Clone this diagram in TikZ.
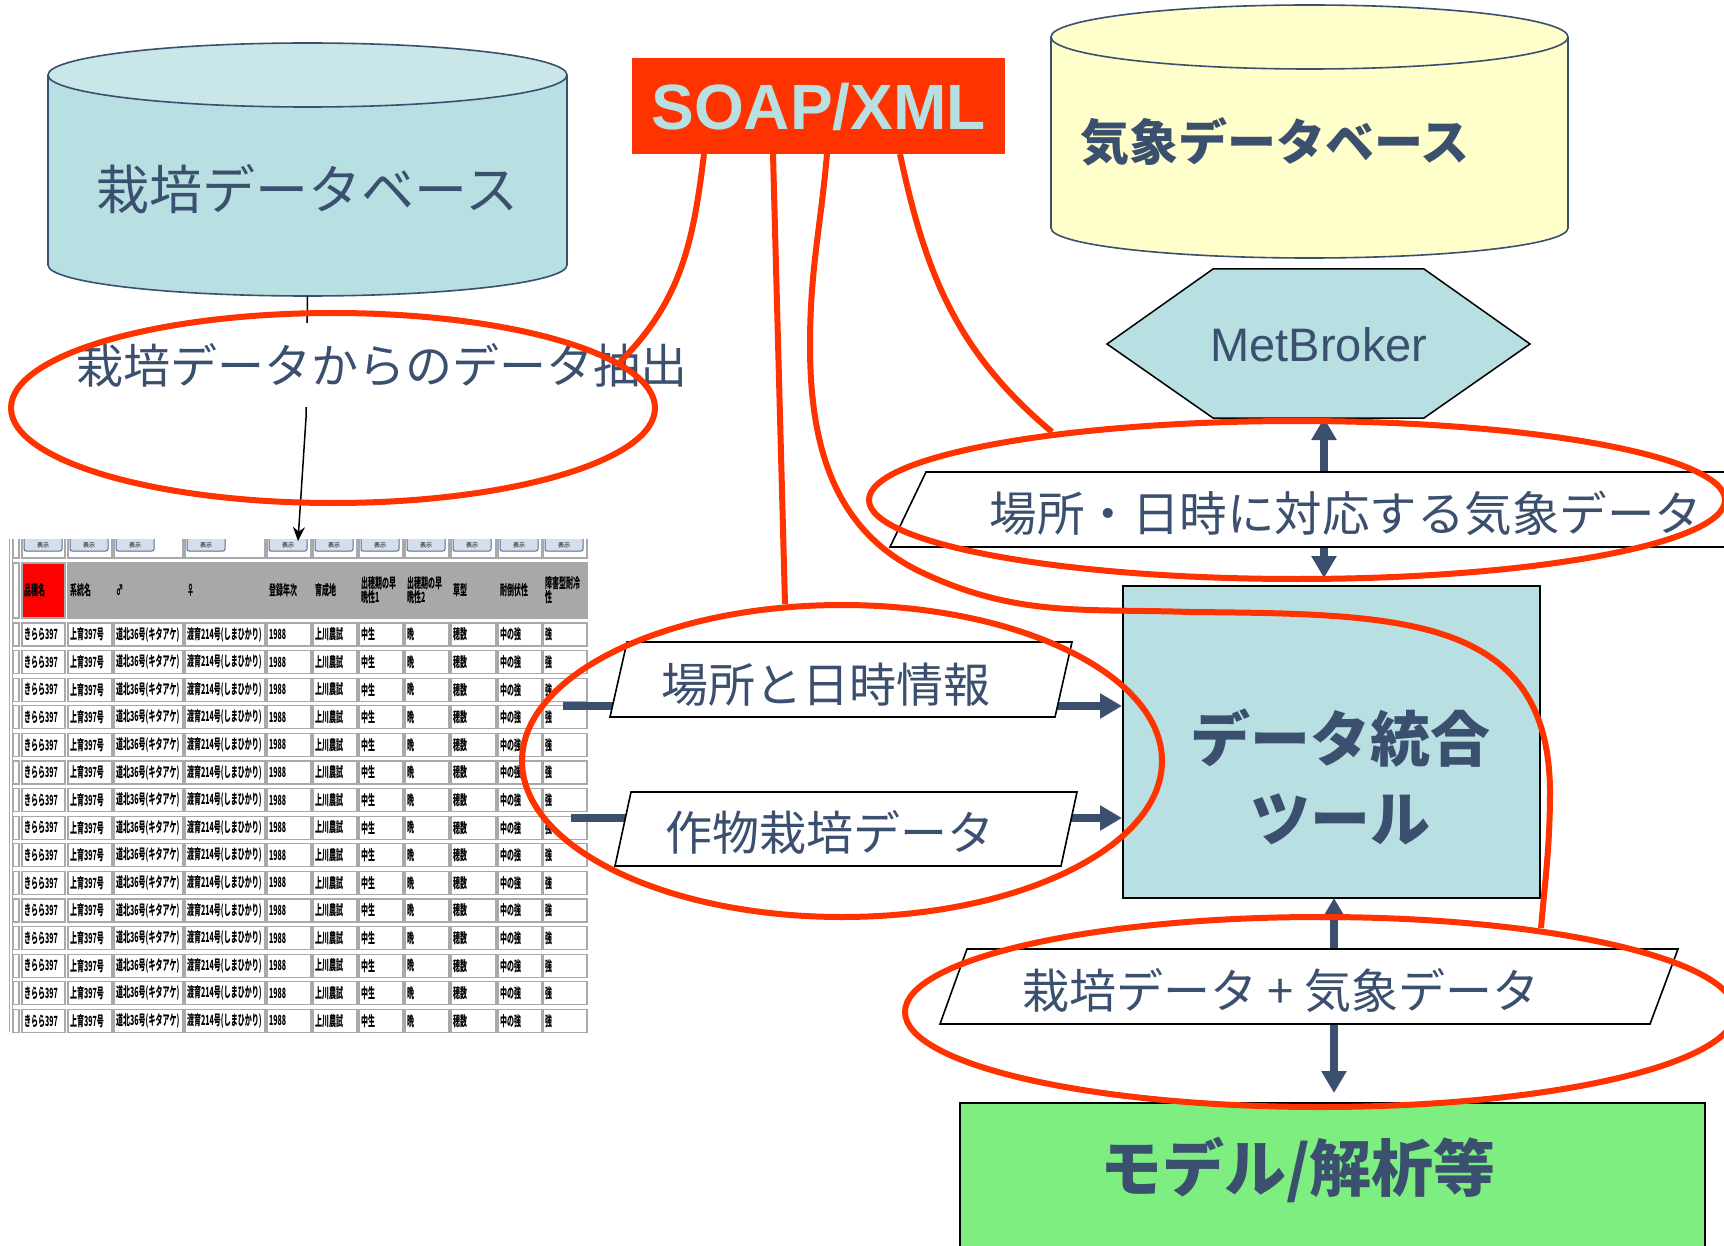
\documentclass[tikz,border=0pt]{standalone}
\usepackage{fontspec}
\usetikzlibrary{arrows.meta}
\newfontfamily\jp{Noto Sans CJK JP}
\newfontfamily\tabfont{Noto Sans CJK JP}[FakeStretch=0.5]
\newfontfamily\arialf{Liberation Sans}
\newcommand{\setfs}[1]{\fontsize{#1}{#1}\selectfont}
\definecolor{txt}{HTML}{3B4F6E}
\definecolor{cyanf}{HTML}{B8DFE2}
\definecolor{cyantop}{HTML}{C9E6E9}
\definecolor{yel}{HTML}{FFFFCC}
\definecolor{redl}{HTML}{FF3300}
\definecolor{grn}{HTML}{7EEE80}
\definecolor{hdr}{HTML}{A8A8A8}
\definecolor{cellb}{HTML}{A9A9A9}
\definecolor{btnb}{HTML}{4F6F9F}
\definecolor{btnf}{HTML}{D5DEEA}
\begin{document}
\begin{tikzpicture}[x=1pt,y=-1pt,
  lbl/.style={text=txt, inner sep=0pt},
  redline/.style={draw=redl, line width=6pt},
  barrow/.style={draw=txt, line width=8pt, -{Triangle[width=24pt,length=22pt]}},
  barrowtwo/.style={draw=txt, line width=8pt, {Triangle[width=24pt,length=22pt]}-{Triangle[width=24pt,length=22pt]}},
  parabox/.style={draw=black, line width=1.6pt, fill=white},
  dbedge/.style={draw=txt, line width=1.6pt},
  cell/.style={draw=cellb, line width=1.2pt, fill=white},
  hcell/.style={draw=cellb, line width=1.2pt, fill=hdr},
  tabtxt/.style={anchor=west, inner sep=0pt, font=\tabfont\bfseries\setfs{14}, text=black}
]
\path[use as bounding box, fill=white] (0,0) rectangle (1724,1246);

% ---------------- table (screenshot) ----------------
\begin{scope}
\clip (0,539) rectangle (600,1033);
\draw[cellb, line width=1pt] (9,539) -- (9,1032) (12,539) -- (12,1032);
\draw[cell] (13,536) rectangle (19,558);
\draw[cell] (13,563) rectangle (19,618);
\foreach \i in {0,...,14}{\draw[cell] (13,623+27.6*\i) rectangle (19,646+27.6*\i);}
\foreach \l/\r in {22/65,68/112,114/183,185/265,267/311,313/357,359/403,405/449,451/496,498/542,543/587}{
  \draw[cell] (\l,536) rectangle (\r,558);
  \draw[btnb, line width=1pt, fill=btnf, rounded corners=2pt] (\l+2,533) rectangle (\l+40,551);
  \node[inner sep=0pt, font=\jp\setfs{6}, text=black] at (\l+21,545) {表示};
}
\foreach \l/\r/\h [count=\k] in {22/65/品種名, 68/112/系統名, 114/183/♂, 185/265/♀, 267/311/登録年次, 313/357/育成地, 359/403/{出穂期の早\\晩性1}, 405/449/{出穂期の早\\晩性2}, 451/496/草型, 498/542/耐倒伏性, 543/587/{障害型耐冷\\性}}{
  \ifnum\k=1 \draw[cellb, line width=1.2pt, fill=red] (\l,563) rectangle (\r,618);
  \else \draw[hcell] (\l,563) rectangle (\r,618); \fi
  \node[tabtxt, align=left] at (\l+2,590) {\h};
}
\foreach \l/\r/\d in {22/65/{きらら397}, 68/112/{上育397号}, 114/183/{道北36号(キタアケ)}, 185/265/{渡育214号(しまひかり)}, 267/311/{1988}, 313/357/{上川農試}, 359/403/{中生}, 405/449/{晩}, 451/496/{穂数}, 498/542/{中の強}, 543/587/{強}}{
  \foreach \i in {0,...,14}{
    \draw[cell] (\l,623+27.6*\i) rectangle (\r,646+27.6*\i);
    \node[tabtxt] at (\l+2,634.5+27.6*\i) {\d};
  }
}
\end{scope}

% ---------------- cultivation database cylinder ----------------
\fill[cyanf] (48,75) -- (48,265) arc[start angle=180,end angle=360,x radius=259.5pt,y radius=31pt] -- (567,75) -- cycle;
\draw[dbedge] (48,75) -- (48,265) arc[start angle=180,end angle=360,x radius=259.5pt,y radius=31pt] -- (567,75);
\draw[dbedge, fill=cyantop] (307.5,75) ellipse [x radius=259.5pt, y radius=32pt];
\node[lbl, font=\jp\setfs{53}] (cultdb) at (307.5,189) {栽培データベース};
\coordinate (cultdbS) at (307.5,296);

% ---------------- weather database cylinder ----------------
\fill[yel] (1051,37) -- (1051,228) arc[start angle=180,end angle=360,x radius=258.5pt,y radius=30pt] -- (1568,37) -- cycle;
\draw[dbedge] (1051,37) -- (1051,228) arc[start angle=180,end angle=360,x radius=258.5pt,y radius=30pt] -- (1568,37);
\draw[dbedge, fill=yel] (1309.5,37) ellipse [x radius=258.5pt, y radius=32pt];
\node[lbl, font=\jp\bfseries\setfs{49}] (wdb) at (1275,142) {気象データベース};

% ---------------- MetBroker ----------------
\draw[black, line width=1.5pt, fill=cyanf] (1107,344) -- (1213,269) -- (1424,269) -- (1530,344) -- (1424,418) -- (1213,418) -- cycle;
\node[lbl, font=\arialf\setfs{47}] (metb) at (1319,345) {MetBroker};
\coordinate (metbS) at (1324,418);

% ---------------- data integration tool ----------------
\node[draw=black, line width=2pt, fill=cyanf, minimum width=417pt, minimum height=312pt, inner sep=0pt] (tool) at (1331.5,742) {};
\node[lbl, font=\jp\bfseries\fontsize{60}{80}\selectfont, align=center] (tooltxt) at (1340,777) {データ統合\\ツール};
\coordinate (toolN) at (1324,586);
\coordinate (toolS) at (1334,898);

% ---------------- model / analysis ----------------
\node[draw=black, line width=1.5pt, fill=grn, minimum width=745pt, minimum height=160pt, inner sep=0pt, anchor=north] (model) at (1332.5,1102) {};
\node[lbl, font=\jp\bfseries\setfs{62}] (modeltxt) at (1298,1170) {モデル/解析等};
\coordinate (modelN) at (1334,1102);

% ---------------- SOAP/XML ----------------
\node[fill=redl, minimum width=373pt, minimum height=96pt, inner sep=0pt] (soap) at (818.5,106) {};
\node[text=cyanf, font=\arialf\bfseries\setfs{64}, inner sep=0pt] (soaptxt) at (818.5,107) {SOAP/XML};

% ---------------- extraction connector ----------------
\coordinate (tabtop) at (298,541);
\draw[black, line width=1.5pt, -{Stealth[length=14pt,width=12pt]}] (cultdbS) -- (306,418) -- (tabtop);
\node[lbl, fill=white, inner xsep=2pt, inner ysep=20pt, font=\jp\setfs{47}] (extract) at (382,365) {栽培データからのデータ抽出};

% ---------------- blue arrows ----------------
\coordinate (src1) at (563,706);
\coordinate (src2) at (571,818);
\draw[barrow] (src1) -- (tool.west |- src1);
\draw[barrow] (src2) -- (tool.west |- src2);
\draw[barrowtwo, shorten >=8pt] (metbS) -- (toolN);
\draw[barrowtwo, shorten >=9pt] (toolS) -- (modelN);

% ---------------- parallelograms ----------------
\draw[parabox] (627,642) -- (1072,642) -- (1055,717) -- (610,717) -- cycle;
\node[lbl, font=\jp\setfs{47}] (loc) at (826,685) {場所と日時情報};
\draw[parabox] (631,792) -- (1077,792) -- (1061,866) -- (615,866) -- cycle;
\node[lbl, font=\jp\setfs{47}] (crop) at (830,832) {作物栽培データ};
\draw[parabox] (926,472) -- (1800,472) -- (1764,547) -- (890,547) -- cycle;
\node[lbl, font=\jp\setfs{47.5}] (wdata) at (1346,513) {場所・日時に対応する気象データ};
\draw[parabox] (967,949) -- (1678,949) -- (1650,1024) -- (940,1024) -- cycle;
\node[lbl, font=\jp\setfs{47}] (both) at (1281,991) {栽培データ + 気象データ};

% ---------------- red annotations ----------------
\draw[redline] (333,408) ellipse [x radius=322pt, y radius=95pt];
\draw[redline] (842,761) ellipse [x radius=320pt, y radius=156pt];
\draw[redline] (1297,500) ellipse [x radius=428pt, y radius=79pt];
\draw[redline] (1320,1012) ellipse [x radius=415pt, y radius=95pt];

\coordinate (sa) at (704,154);
\coordinate (sb) at (773,154);
\coordinate (sc) at (827,154);
\coordinate (sd) at (900,154);
\coordinate (ea) at (620,362);
\coordinate (eb) at (785,604);
\coordinate (ec) at (1541,928);
\coordinate (ed) at (1052,432);
\draw[redline] (sa) to[out=-97,in=45] (ea);
\draw[redline] (sb) -- (eb);
\draw[redline] (sc) to[out=-95,in=90] (810,345) to[out=-90,in=155] (923,573)
  to[out=-25,in=178] (1190,612)
  .. controls (1400,614) and (1548,615) .. (1550,790)
  to[out=-90,in=85] (ec);
\draw[redline] (sd) to[out=-78,in=140] (ed);
\end{tikzpicture}
\end{document}
